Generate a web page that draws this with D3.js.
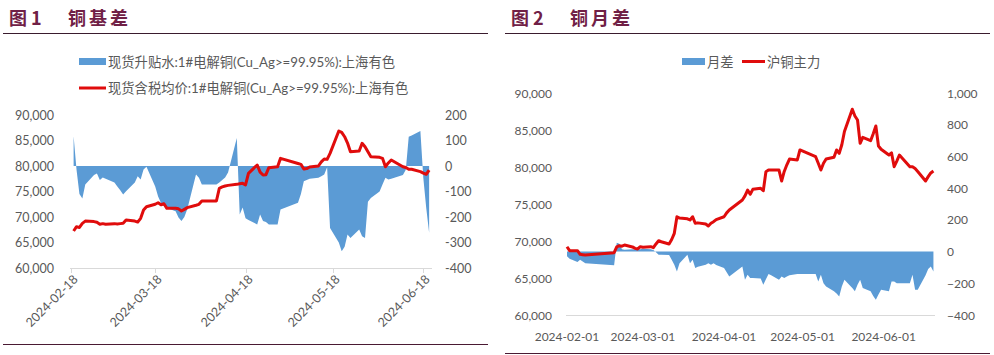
<!DOCTYPE html>
<html><head><meta charset="utf-8">
<script src="https://cdn.jsdelivr.net/npm/d3@7/dist/d3.min.js"></script>
<style>
body{margin:0;background:#fff;}
svg{display:block;}
text{font-family:Lato,"Noto Sans CJK SC",sans-serif;}
</style></head>
<body>
<svg id="c" width="994" height="355"></svg>
<script>
// ---------- Chart 1 data: 铜基差 ----------
const basisDates = ["2024-02-19","2024-02-20","2024-02-21","2024-02-22","2024-02-23","2024-02-26","2024-02-27","2024-02-28","2024-02-29","2024-03-01","2024-03-04","2024-03-05","2024-03-06","2024-03-07","2024-03-08","2024-03-11","2024-03-12","2024-03-13","2024-03-14","2024-03-15","2024-03-18","2024-03-19","2024-03-20","2024-03-21","2024-03-22","2024-03-25","2024-03-26","2024-03-27","2024-03-28","2024-03-29","2024-04-01","2024-04-02","2024-04-03","2024-04-08","2024-04-09","2024-04-10","2024-04-11","2024-04-12","2024-04-15","2024-04-16","2024-04-17","2024-04-18","2024-04-19","2024-04-22","2024-04-23","2024-04-24","2024-04-25","2024-04-26","2024-04-29","2024-04-30","2024-05-06","2024-05-07","2024-05-08","2024-05-09","2024-05-10","2024-05-13","2024-05-14","2024-05-15","2024-05-16","2024-05-17","2024-05-20","2024-05-21","2024-05-22","2024-05-23","2024-05-24","2024-05-27","2024-05-28","2024-05-29","2024-05-30","2024-05-31","2024-06-03","2024-06-04","2024-06-05","2024-06-06","2024-06-07","2024-06-11","2024-06-12","2024-06-13","2024-06-14","2024-06-17","2024-06-18","2024-06-19","2024-06-20"];
const basisValues = [117,-15,-110,-127,-73,-35,-29,-55,-45,-50,-65,-80,-95,-112,-99,-65,-40,-53,-14,-3,-80,-120,-145,-157,-165,-177,-202,-216,-200,-170,-33,-46,-73,-73,-65,-55,-45,-25,110,-190,-163,-205,-212,-229,-190,-216,-220,-229,-229,-171,-144,-110,-60,-55,-50,-46,-40,-33,-5,-243,-300,-334,-317,-269,-282,-249,-275,-282,-140,-125,-100,-73,-46,-53,-50,-35,-15,115,120,137,-46,-164,-262];
const spotPrices = [67255,68100,67950,68760,69200,69100,68960,68570,68700,68570,68700,68650,68700,68760,69400,69200,69000,69740,71370,72020,72500,72800,72400,72600,71700,71700,71600,71170,71500,71830,72300,72480,73140,73140,75620,75900,76080,76200,76400,76500,76600,76300,78560,80200,78800,78240,78300,79670,79860,81500,80500,80330,79400,79500,79800,80000,80800,81370,81300,82480,86860,86600,85740,84500,82800,82940,84450,83780,82800,81820,81700,81500,79860,80600,81180,79860,79700,79350,79350,78900,78600,78370,79200];
const c1LeftTicks = [60000,65000,70000,75000,80000,85000,90000];
const c1RightTicks = [-400,-300,-200,-100,0,100,200];
const c1XTicks = ["2024-02-18","2024-03-18","2024-04-18","2024-05-18","2024-06-18"];
const c1Legend = ["现货升贴水:1#电解铜(Cu_Ag>=99.95%):上海有色","现货含税均价:1#电解铜(Cu_Ag>=99.95%):上海有色"];

// ---------- Chart 2 data: 铜月差 ----------
const spreadDates = ["2024-02-01","2024-02-02","2024-02-05","2024-02-06","2024-02-07","2024-02-08","2024-02-19","2024-02-20","2024-02-21","2024-02-22","2024-02-23","2024-02-26","2024-02-27","2024-02-28","2024-02-29","2024-03-01","2024-03-04","2024-03-05","2024-03-06","2024-03-07","2024-03-08","2024-03-11","2024-03-12","2024-03-13","2024-03-14","2024-03-15","2024-03-18","2024-03-19","2024-03-20","2024-03-21","2024-03-22","2024-03-25","2024-03-26","2024-03-27","2024-03-28","2024-03-29","2024-04-01","2024-04-02","2024-04-03","2024-04-08","2024-04-09","2024-04-10","2024-04-11","2024-04-12","2024-04-15","2024-04-16","2024-04-17","2024-04-18","2024-04-19","2024-04-22","2024-04-23","2024-04-24","2024-04-25","2024-04-26","2024-04-29","2024-04-30","2024-05-06","2024-05-07","2024-05-08","2024-05-09","2024-05-10","2024-05-13","2024-05-14","2024-05-15","2024-05-16","2024-05-17","2024-05-20","2024-05-21","2024-05-22","2024-05-23","2024-05-24","2024-05-27","2024-05-28","2024-05-29","2024-05-30","2024-05-31","2024-06-03","2024-06-04","2024-06-05","2024-06-06","2024-06-07","2024-06-11","2024-06-12","2024-06-13","2024-06-14","2024-06-17","2024-06-18","2024-06-19","2024-06-20"];
const spreadValues = [-30,-45,-66,-52,-62,-73,-87,55,50,15,12,15,12,15,15,18,15,10,-5,-20,-20,-22,-52,-83,-125,-73,-20,-73,-52,-104,-95,-83,-73,-83,-73,-85,-104,-130,-157,-94,-178,-146,-167,-167,-170,-209,-175,-142,-150,-178,-157,-167,-157,-150,-142,-142,-142,-188,-146,-200,-220,-251,-265,-283,-220,-178,-230,-251,-210,-178,-230,-251,-280,-304,-270,-241,-251,-188,-188,-199,-199,-199,-146,-241,-241,-150,-110,-94,-125];
const futPrices = [69230,68690,68690,68200,68150,68100,68420,69200,69360,69300,69460,69200,69000,68920,69230,69150,69230,69100,69600,70040,69900,69590,70200,71040,73280,73100,73000,72840,73280,72390,72450,72300,72030,72400,72610,72900,73280,73800,74190,75540,76100,76890,76310,76980,77120,76800,79360,79590,79600,79590,78110,79400,80300,81080,80950,82300,81390,80500,79590,80500,81080,81310,82300,81850,83000,84800,87800,86900,86350,83200,84010,83560,84500,85540,82840,82400,81620,81900,80040,80800,81620,80040,80040,79800,79400,78110,78700,79200,79460];
const c2LeftTicks = [60000,65000,70000,75000,80000,85000,90000];
const c2RightTicks = [-400,-200,0,200,400,600,800,1000];
const c2XTicks = ["2024-02-01","2024-03-01","2024-04-01","2024-05-01","2024-06-01"];
const c2Legend = ["月差","沪铜主力"];

// ---------- drawing ----------
const parse = d3.timeParse("%Y-%m-%d");
const svg = d3.select("#c");
const BLUE = "#5b9bd5", RED = "#e00c0c", GRAY = "#595959", TITLE = "#702046", AXIS = "#d9d9d9";
const fmt = d3.format(",");

function header(x0, x1, num, name, bottomY){
  svg.append("text").attr("x", x0+6).attr("y", 17).attr("dominant-baseline","central")
     .attr("font-size",18).attr("font-weight","bold").attr("fill",TITLE)
     .style("font-family","'Noto Sans CJK SC',sans-serif").text("图 " + num);
  svg.append("text").attr("x", x0+65).attr("y", 17).attr("dominant-baseline","central")
     .attr("font-size",18).attr("font-weight","bold").attr("fill",TITLE)
     .style("font-family","'Noto Sans CJK SC',sans-serif").attr("letter-spacing",3).text(name);
  svg.append("line").attr("x1",x0).attr("x2",x1).attr("y1",33.5).attr("y2",33.5)
     .attr("stroke","#3a1c2e").attr("stroke-width",1);
  svg.append("line").attr("x1",x0).attr("x2",x1).attr("y1",bottomY).attr("y2",bottomY)
     .attr("stroke","#4a1a33").attr("stroke-width",1.2);
}

// Chart 1
header(3, 488, 1, "铜基差", 344.5);
{
  const dates = basisDates.map(parse);
  const x = d3.scaleTime().domain([parse(c1XTicks[0]), parse(c1XTicks[4])]).range([70.7, 423.3]);
  const yL = d3.scaleLinear().domain([60000, 90000]).range([268, 115]);
  const yR = d3.scaleLinear().domain([-400, 200]).range([268, 115]);
  const g = svg.append("g");
  g.append("line").attr("x1",70).attr("x2",432).attr("y1",268.5).attr("y2",268.5).attr("stroke",AXIS);
  c1XTicks.forEach(t=>{
    const xx = Math.round(x(parse(t)))+0.5;
    g.append("line").attr("x1",xx).attr("x2",xx).attr("y1",268.5).attr("y2",273).attr("stroke",AXIS);
    g.append("text").attr("transform",`translate(${xx+4},${277}) rotate(-45)`)
     .attr("text-anchor","end").attr("dominant-baseline","central")
     .attr("font-size",12.5).attr("fill",GRAY).text(t);
  });
  c1LeftTicks.forEach(v=>{
    g.append("text").attr("x",54).attr("y",yL(v)).attr("text-anchor","end").attr("dominant-baseline","central")
     .attr("font-size",12.5).attr("fill",GRAY).text(fmt(v));
  });
  c1RightTicks.forEach(v=>{
    g.append("text").attr("x",445).attr("y",yR(v)).attr("text-anchor","start").attr("dominant-baseline","central")
     .attr("font-size",12.5).attr("fill",GRAY).text(v);
  });
  const area = d3.area().x((d,i)=>x(dates[i])).y0(yR(0)).y1(d=>yR(d));
  g.append("path").attr("d", area(basisValues)).attr("fill",BLUE);
  const line = d3.line().x((d,i)=>x(dates[i])).y(d=>yL(d));
  g.append("path").attr("d", line(spotPrices)).attr("fill","none").attr("stroke",RED)
   .attr("stroke-width",3).attr("stroke-linejoin","round");
  g.append("rect").attr("x",79).attr("y",58).attr("width",27).attr("height",7).attr("fill",BLUE);
  g.append("text").attr("x",108).attr("y",61.5).attr("dominant-baseline","central").attr("font-size",13.3).attr("fill",GRAY).text(c1Legend[0]);
  g.append("line").attr("x1",79).attr("x2",106).attr("y1",88).attr("y2",88).attr("stroke",RED).attr("stroke-width",3);
  g.append("text").attr("x",108).attr("y",88).attr("dominant-baseline","central").attr("font-size",13.3).attr("fill",GRAY).text(c1Legend[1]);
}

// Chart 2
header(505, 990, 2, "铜月差", 353.5);
{
  const dates = spreadDates.map(parse);
  const x = d3.scaleTime().domain([parse(c2XTicks[0]), parse(c2XTicks[4])]).range([567, 883.7]);
  const yL = d3.scaleLinear().domain([60000, 90000]).range([315, 93]);
  const yR = d3.scaleLinear().domain([-400, 1000]).range([315, 93]);
  const g = svg.append("g");
  g.append("line").attr("x1",566).attr("x2",935).attr("y1",315.5).attr("y2",315.5).attr("stroke",AXIS);
  c2XTicks.forEach(t=>{
    g.append("text").attr("x",x(parse(t))).attr("y",336).attr("text-anchor","middle").attr("dominant-baseline","central")
     .attr("font-size",12).attr("fill",GRAY).text(t);
  });
  c2LeftTicks.forEach(v=>{
    g.append("text").attr("x",552).attr("y",yL(v)).attr("text-anchor","end").attr("dominant-baseline","central")
     .attr("font-size",12).attr("fill",GRAY).text(fmt(v));
  });
  c2RightTicks.forEach(v=>{
    g.append("text").attr("x",947).attr("y",yR(v)).attr("text-anchor","start").attr("dominant-baseline","central")
     .attr("font-size",12).attr("fill",GRAY).text(fmt(v));
  });
  const area = d3.area().x((d,i)=>x(dates[i])).y0(yR(0)).y1(d=>yR(d));
  g.append("path").attr("d", area(spreadValues)).attr("fill",BLUE);
  const line = d3.line().x((d,i)=>x(dates[i])).y(d=>yL(d));
  g.append("path").attr("d", line(futPrices)).attr("fill","none").attr("stroke",RED)
   .attr("stroke-width",3).attr("stroke-linejoin","round");
  g.append("rect").attr("x",682).attr("y",58).attr("width",23).attr("height",7).attr("fill",BLUE);
  g.append("text").attr("x",707).attr("y",61.5).attr("dominant-baseline","central").attr("font-size",13.3).attr("fill",GRAY).text(c2Legend[0]);
  g.append("line").attr("x1",742).attr("x2",765).attr("y1",61.5).attr("y2",61.5).attr("stroke",RED).attr("stroke-width",3);
  g.append("text").attr("x",767).attr("y",61.5).attr("dominant-baseline","central").attr("font-size",13.3).attr("fill",GRAY).text(c2Legend[1]);
}
</script>
</body></html>
